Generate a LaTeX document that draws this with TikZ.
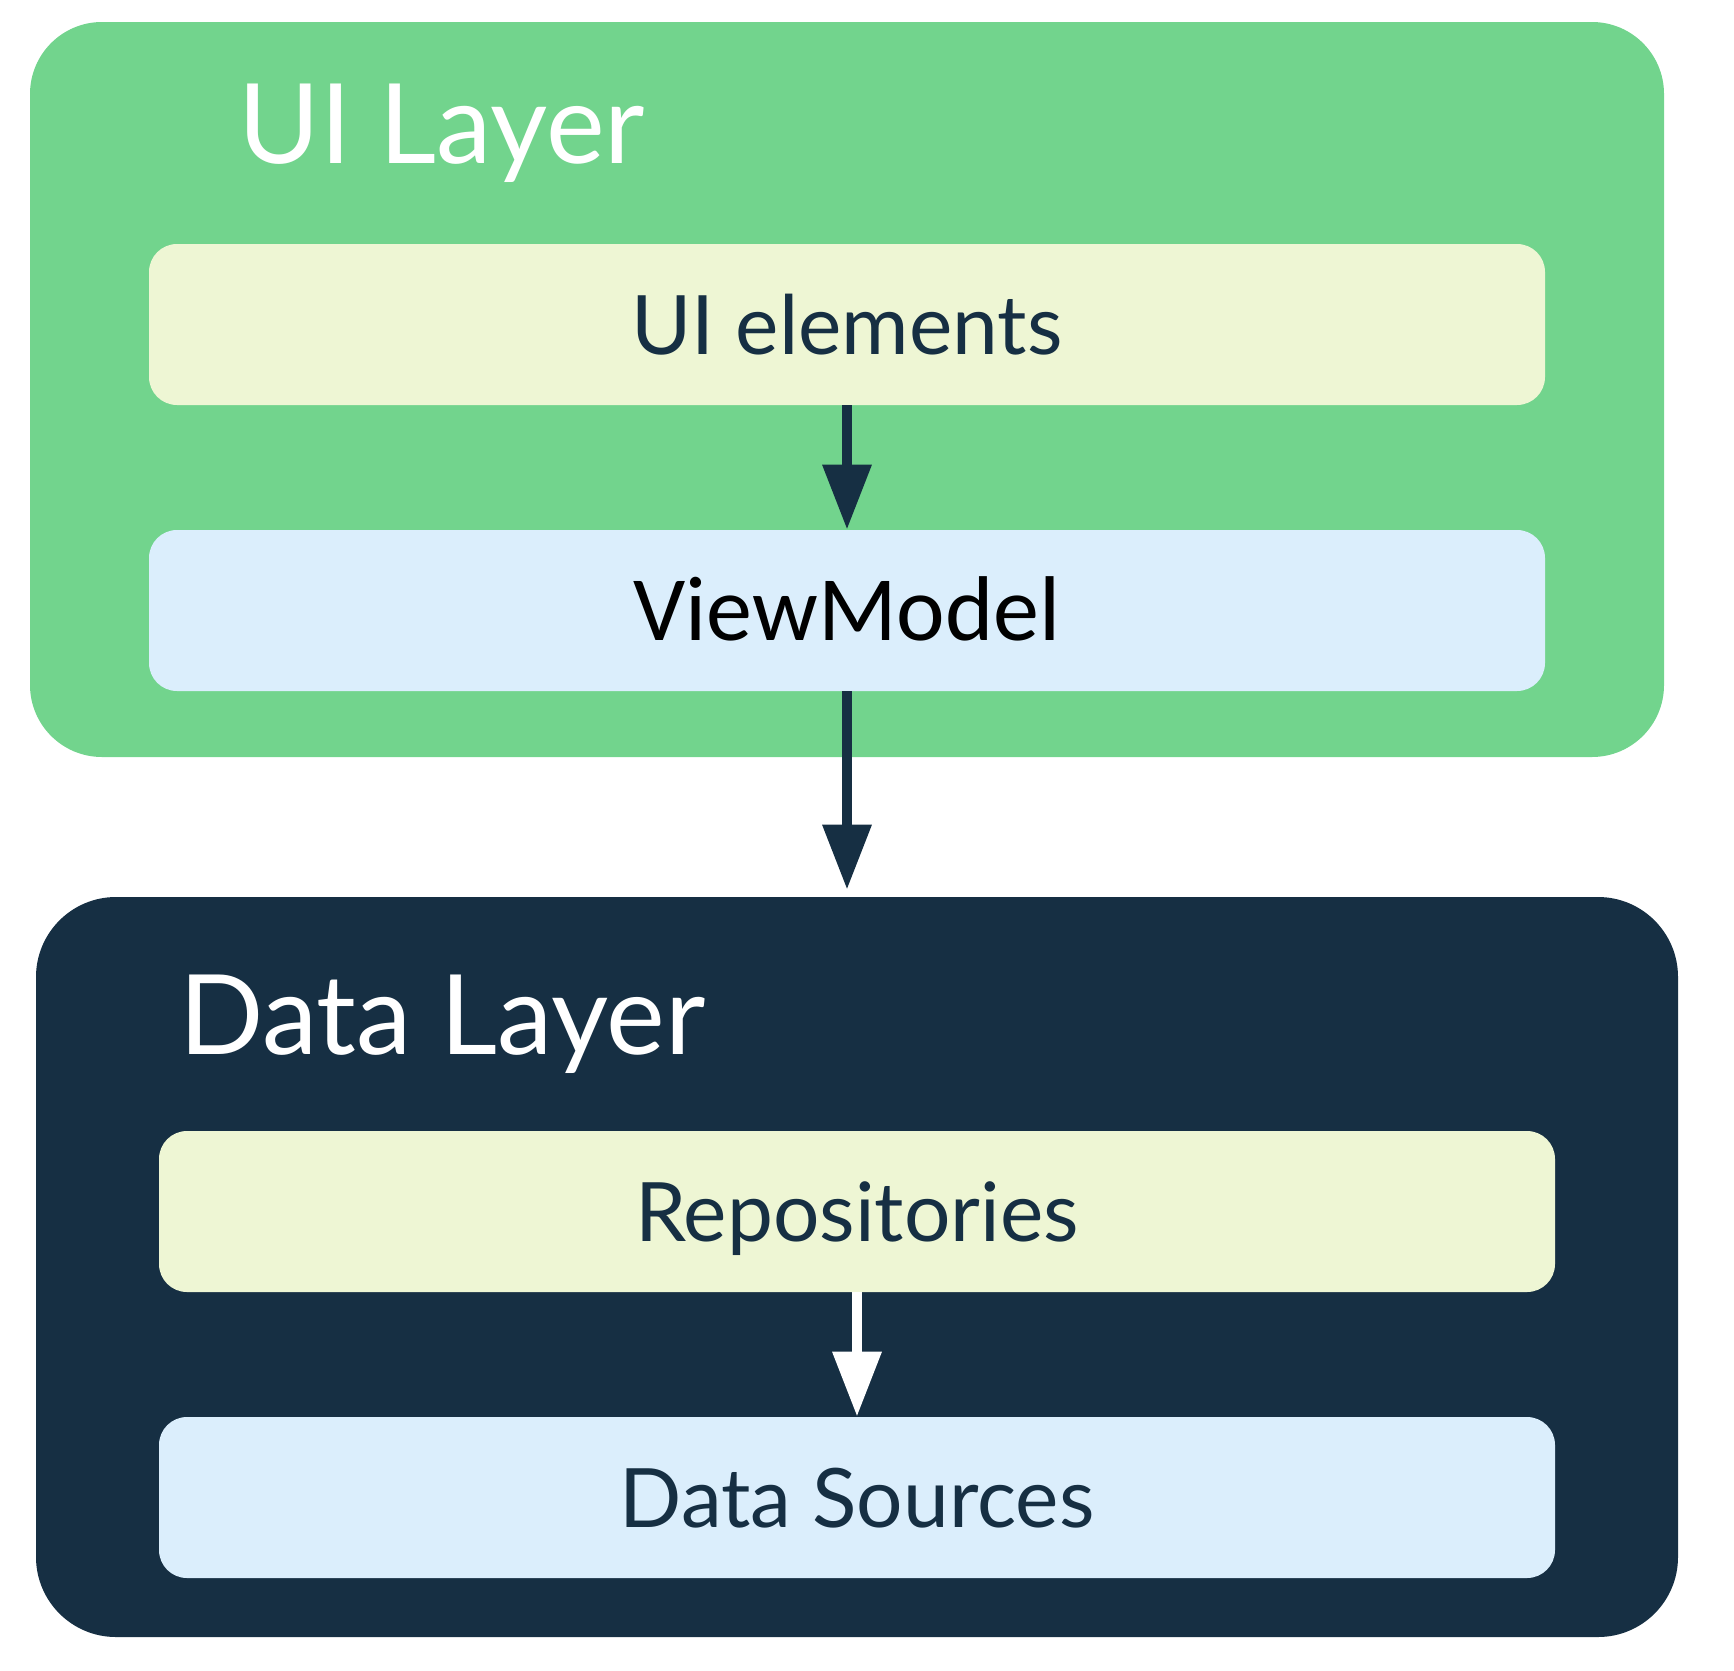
\documentclass[tikz,border=0pt]{standalone}
\usepackage{fontspec}
\setmainfont{Lato}
\newfontfamily\calibrifont{Carlito}
\usetikzlibrary{arrows.meta}
\definecolor{uigreen}{RGB}{114,212,141}
\definecolor{paleyellow}{RGB}{238,246,212}
\definecolor{paleblue}{RGB}{219,238,252}
\definecolor{navy}{RGB}{22,47,67}
\begin{document}
\begin{tikzpicture}[x=0.5pt,y=-0.5pt,
  innerbox/.style={rounded corners=14pt, minimum width=698pt, minimum height=80.5pt,
    inner sep=0pt, text=navy, font=\fontsize{41}{48}\selectfont, text height=29.5pt, text depth=0pt},
  layertitle/.style={anchor=base west, inner sep=0pt, text=white, font=\fontsize{55.5}{64}\selectfont},
  arr/.style={line width=5pt, -{Triangle[width=23.5pt,length=32.5pt]}}]
\useasboundingbox (0,0) rectangle (1734,1670);
% UI layer
\node[fill=uigreen, rounded corners=36pt, minimum width=817pt, minimum height=367.5pt, inner sep=0pt] (uil) at (847,389.5) {};
\node[layertitle] (uit) at (238,163) {UI Layer};
\node[innerbox, fill=paleyellow] (uie) at (847,324.5) {UI elements};
\node[innerbox, fill=paleblue, text=black, font=\calibrifont\fontsize{46}{56}\selectfont, text height=29.5pt] (vm) at (847,610.5) {ViewModel};
% Data layer
\node[fill=navy, rounded corners=40pt, minimum width=821pt, minimum height=370pt, inner sep=0pt] (dl) at (857,1267) {};
\node[layertitle] (dlt) at (179,1054) {Data Layer};
\node[innerbox, fill=paleyellow] (repo) at (857,1211.5) {Repositories};
\node[innerbox, fill=paleblue] (ds) at (857,1497.5) {Data Sources};
% arrows
\draw[arr, navy] (uie.south) -- (vm.north);
\draw[arr, navy] (vm.south) -- ([yshift=3.5pt]vm.south |- dl.north);
\draw[arr, white] (repo.south) -- (ds.north);
\end{tikzpicture}
\end{document}
